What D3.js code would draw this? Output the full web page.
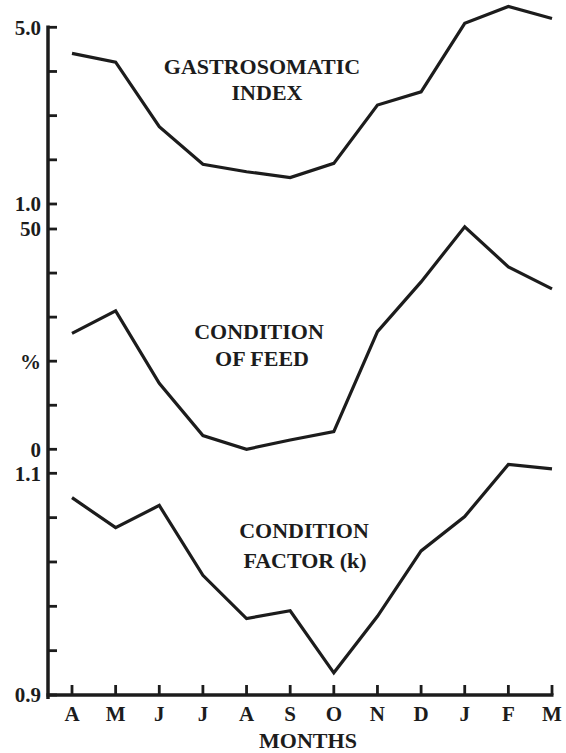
<!DOCTYPE html>
<html><head><meta charset="utf-8">
<script src="https://cdn.jsdelivr.net/npm/d3@7"></script>
<style>
html,body{margin:0;padding:0;background:#fff;}
</style></head><body>
<svg id="c" width="566" height="753"></svg>
<script>
const months = ["A","M","J","J","A","S","O","N","D","J","F","M"];
const gastrosomatic = [4.41,4.21,2.75,1.90,1.73,1.60,1.92,3.24,3.54,5.09,5.47,5.20];
const feedCondition = [26.3,31.4,15.0,3.1,0,2.1,4.0,26.7,38.0,50.5,41.4,36.4];
const conditionFactor = [1.078,1.051,1.071,1.008,0.969,0.976,0.920,0.971,1.030,1.061,1.108,1.104];
const gsiTicks = [1,2,3,4,5];
const gsiLabels = {1:"1.0",5:"5.0"};
const feedTicks = [0,10,20,30,40,50];
const feedLabels = {0:"0",20:"%",50:"50"};
const kTicks = [0.9,0.94,0.98,1.02,1.06,1.1];
const kLabels = {0.9:"0.9",1.1:"1.1"};

const svg = d3.select("#c");
const ink = "#1c1c1c";
const axX = 48, xAxisY = 695;

function txt(g, size){
  return g.append("text").style("font-family","'Liberation Serif'")
    .attr("font-weight","bold").attr("font-size",size).attr("fill",ink);
}

const x = d3.scalePoint().domain(d3.range(months.length)).range([72, 552]);

const yG = d3.scaleLinear().domain([1,5]).range([204,27.3]);
const yF = d3.scaleLinear().domain([0,50]).range([449.3,229]);
const yK = d3.scaleLinear().domain([0.9,1.1]).range([xAxisY,473.3]);

svg.append("line").attr("x1",axX).attr("x2",axX).attr("y1",25.5).attr("y2",xAxisY+4)
  .attr("stroke",ink).attr("stroke-width",3.5);
svg.append("line").attr("x1",axX-1.5).attr("x2",553.5).attr("y1",xAxisY).attr("y2",xAxisY)
  .attr("stroke",ink).attr("stroke-width",3.5);

function yTicks(scale, ticks, labels){
  const g = svg.append("g");
  ticks.forEach(t=>{
    const y = scale(t);
    g.append("line").attr("x1",axX).attr("x2",axX+9).attr("y1",y).attr("y2",y)
      .attr("stroke",ink).attr("stroke-width",2.8);
    if(labels[t]!==undefined){
      txt(g,21).attr("x",axX-7).attr("y",y).attr("dy","0.35em")
        .attr("text-anchor","end").text(labels[t]);
    }
  });
}
yTicks(yG,gsiTicks,gsiLabels);
yTicks(yF,feedTicks,feedLabels);
yTicks(yK,kTicks,kLabels);

months.forEach((m,i)=>{
  svg.append("line").attr("x1",x(i)).attr("x2",x(i)).attr("y1",xAxisY).attr("y2",xAxisY-10)
    .attr("stroke",ink).attr("stroke-width",2.8);
  txt(svg,21).attr("x",x(i)).attr("y",721).attr("text-anchor","middle").text(m);
});
txt(svg,22).attr("x",308).attr("y",748).attr("text-anchor","middle").text("MONTHS");

function series(data, scale){
  const line = d3.line().x((d,i)=>x(i)).y(d=>scale(d));
  svg.append("path").attr("d",line(data)).attr("fill","none")
    .attr("stroke",ink).attr("stroke-width",3.2).attr("stroke-linejoin","miter");
}
series(gastrosomatic,yG);
series(feedCondition,yF);
series(conditionFactor,yK);

function label(lines, cx, ys){
  lines.forEach((t,i)=>txt(svg,22).attr("x",cx[i]).attr("y",ys[i])
    .attr("text-anchor","middle").text(t));
}
label(["GASTROSOMATIC","INDEX"],[262,267],[74,100]);
label(["CONDITION","OF FEED"],[259,262],[339,366]);
label(["CONDITION","FACTOR (k)"],[304,305],[538,568]);
</script></body></html>
